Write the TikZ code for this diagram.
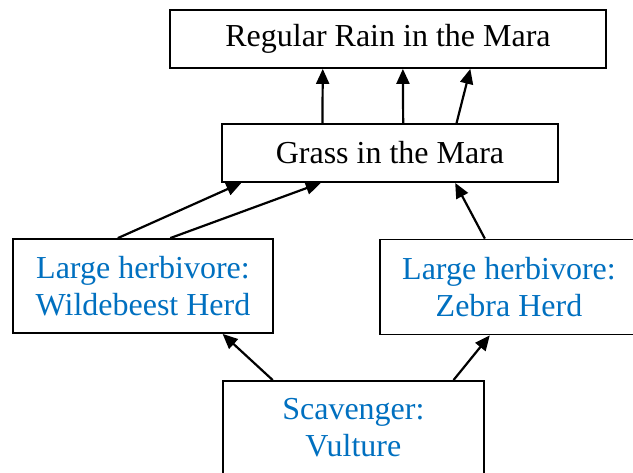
\documentclass[tikz,border=0pt]{standalone}
\usepackage{fontspec}
\setmainfont{Liberation Serif}
\usepackage{xcolor}
\usetikzlibrary{calc,arrows.meta}
\definecolor{ink}{HTML}{000000}
\definecolor{herb}{HTML}{0070C0}
\tikzset{
  box/.style={draw=ink, line width=1.8pt, fill=white, align=center, inner sep=0pt,
    font=\fontsize{32}{37}\selectfont},
  boxb/.style={box, text=herb},
  link/.style={draw=ink, line width=2.2pt, -{Triangle[length=15pt, width=13pt]}},
}

\begin{document}
\begin{tikzpicture}[x=1pt, y=-1pt]
  \useasboundingbox (0,0) rectangle (633,473);
  \clip (0,0) rectangle (633,473);

  \node[box, minimum width=436pt, minimum height=58pt] (rain) at (388,39) {Regular Rain in the Mara};
  \node[box, minimum width=336pt, minimum height=58pt] (grass) at (390,153) {Grass in the Mara};
  \node[boxb, minimum width=260pt, minimum height=94pt] (wildb) at (143,286) {Large herbivore:\\Wildebeest Herd};
  \node[boxb, minimum width=258pt, minimum height=95pt] (zebra) at (509,287) {Large herbivore:\\Zebra Herd};
  \node[boxb, minimum width=261pt, minimum height=94pt] (vulture) at (353.4,428) {Scavenger:\\Vulture};

  % grass to rain
  \draw[link] ($(grass.north west)!.30!(grass.north east)$) -- ($(rain.south west)!.351!(rain.south east)$);
  \draw[link] ($(grass.north west)!.539!(grass.north east)$) -- ($(rain.south west)!.534!(rain.south east)$);
  \draw[link] ($(grass.north west)!.697!(grass.north east)$) -- ($(rain.south west)!.688!(rain.south east)$);

  % herds to grass
  \draw[link] ($(wildb.north west)!.404!(wildb.north east)$) -- ($(grass.south west)!.06!(grass.south east)$);
  \draw[link] ($(wildb.north west)!.604!(wildb.north east)$) -- ($(grass.south west)!.295!(grass.south east)$);
  \draw[link] ($(zebra.north west)!.407!(zebra.north east)$) -- ($(grass.south west)!.693!(grass.south east)$);

  % vulture to herds
  \draw[link] ($(vulture.north west)!.193!(vulture.north east)$) -- ($(wildb.south west)!.804!(wildb.south east)$);
  \draw[link] ($(vulture.north west)!.881!(vulture.north east)$) -- ($(zebra.south west)!.426!(zebra.south east)$);
\end{tikzpicture}
\end{document}
